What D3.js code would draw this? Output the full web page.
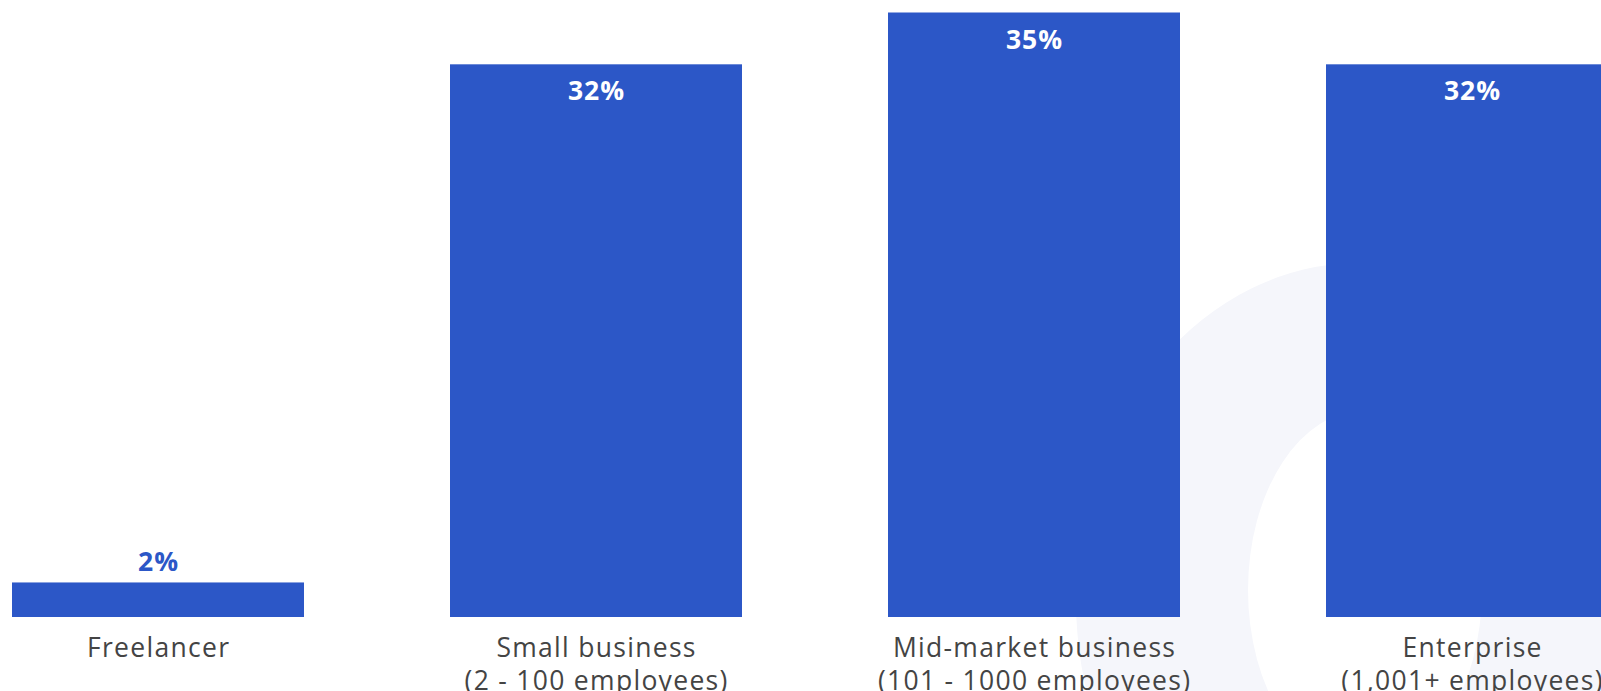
<!DOCTYPE html>
<html>
<head>
<meta charset="utf-8">
<script src="https://cdn.jsdelivr.net/npm/d3@7"></script>
<style>
  html, body { margin: 0; padding: 0; background: #fff; overflow: hidden; }
  svg { display: block; }
</style>
</head>
<body>
<svg width="1601" height="691"></svg>
<script>

let categories = ['Freelancer', 'Small business', 'Mid-market business', 'Enterprise'];
let subLabels = ['', '(2 - 100 employees)', '(101 - 1000 employees)', '(1,001+ employees)'];
let values = [2, 32, 35, 32];

let svg = d3.select('svg');

let barColor = '#2c57c7';
let textColor = '#444444';
let font = '"Open Sans", "DejaVu Sans", sans-serif';

// faint ring watermark in the background
function ellipsePath(cx, cy, rx, ry) {
    return 'M' + (cx - rx) + ',' + cy +
        'A' + rx + ',' + ry + ' 0 1,0 ' + (cx + rx) + ',' + cy +
        'A' + rx + ',' + ry + ' 0 1,0 ' + (cx - rx) + ',' + cy + 'Z';
}

svg.append('path')
    .attr('fill', '#f5f6fb')
    .attr('fill-rule', 'evenodd')
    .attr('d', ellipsePath(1360, 600, 284, 337) + ellipsePath(1365, 590, 117, 180));

let x = d3.scaleBand()
    .domain(categories)
    .range([12, 1618])
    .paddingInner(1 / 3)
    .paddingOuter(0);

let y = d3.scaleLinear()
    .domain([0, 35])
    .range([617, 12.5]);

let small = d => (y(0) - y(d)) < 60;

let bar = svg.selectAll('g.bar')
    .data(values)
    .enter().append('g')
    .attr('class', 'bar')
    .attr('transform', (d, i) => 'translate(' + x(categories[i]) + ',0)');

bar.append('rect')
    .attr('x', 0)
    .attr('y', d => y(d))
    .attr('width', x.bandwidth())
    .attr('height', d => y(0) - y(d))
    .attr('fill', barColor);

bar.append('text')
    .attr('x', x.bandwidth() / 2 + 0.5)
    .attr('y', d => small(d) ? y(d) - 11 : y(d) + 36)
    .attr('text-anchor', 'middle')
    .attr('font-family', font)
    .attr('font-weight', 700)
    .attr('font-size', '26.5px')
    .attr('letter-spacing', '1px')
    .attr('fill', d => small(d) ? barColor : '#ffffff')
    .text(d => d + '%');

let label = bar.append('text')
    .attr('text-anchor', 'middle')
    .attr('font-family', font)
    .attr('font-size', '26.5px')
    .attr('letter-spacing', '1.3px')
    .attr('fill', textColor);

label.append('tspan')
    .attr('x', x.bandwidth() / 2 + 0.6)
    .attr('y', 657)
    .text((d, i) => categories[i]);

label.append('tspan')
    .attr('x', x.bandwidth() / 2 + 0.6)
    .attr('y', 690)
    .text((d, i) => subLabels[i]);

</script>
</body>
</html>
